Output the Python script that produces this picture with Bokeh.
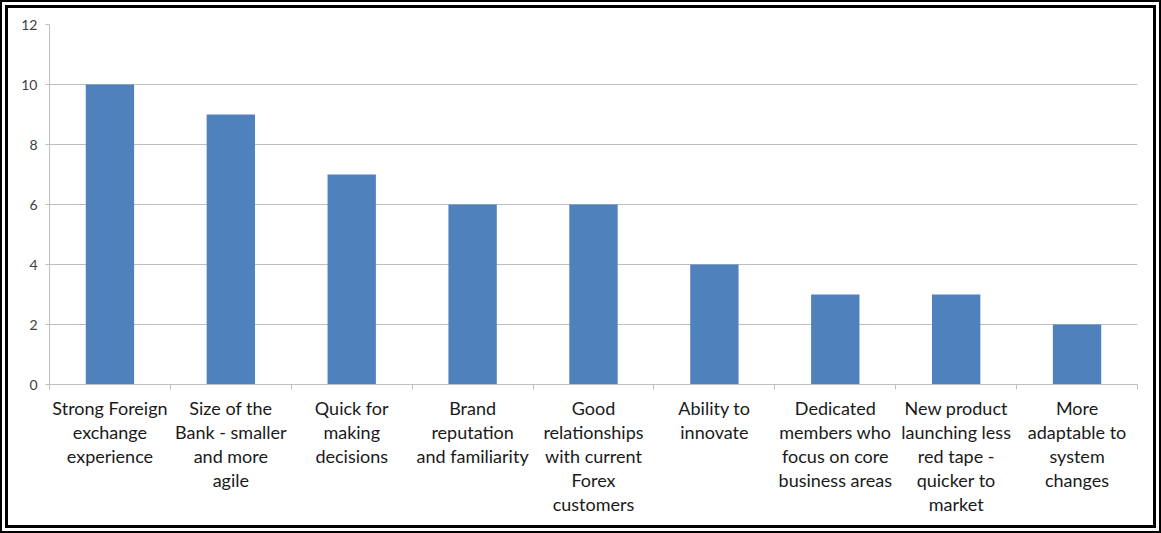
from bokeh.plotting import figure
from bokeh.models import Range1d, LinearAxis, FixedTicker, ColumnDataSource
from bokeh.embed import file_html
from bokeh.resources import INLINE

categories = [
    "Strong Foreign exchange experience",
    "Size of the Bank - smaller and more agile",
    "Quick for making decisions",
    "Brand reputation and familiarity",
    "Good relationships with current Forex customers",
    "Ability to innovate",
    "Dedicated members who focus on core business areas",
    "New product launching less red tape - quicker to market",
    "More adaptable to system changes",
]
wrapped_labels = [
    "Strong Foreign\nexchange\nexperience",
    "Size of the\nBank - smaller\nand more\nagile",
    "Quick for\nmaking\ndecisions",
    "Brand\nreputation\nand familiarity",
    "Good\nrelationships\nwith current\nForex\ncustomers",
    "Ability to\ninnovate",
    "Dedicated\nmembers who\nfocus on core\nbusiness areas",
    "New product\nlaunching less\nred tape -\nquicker to\nmarket",
    "More\nadaptable to\nsystem\nchanges",
]
values = [10, 9, 7, 6, 6, 4, 3, 3, 2]
y_ticks = [0, 2, 4, 6, 8, 10, 12]

W, H = 1161, 533
FONT = "Lato"
n = len(categories)
centers = [i + 0.5 for i in range(n)]

p = figure(x_range=Range1d(0, n), y_range=Range1d(0, 12),
           width=W, height=H, output_backend="svg", toolbar_location=None,
           x_axis_location=None, y_axis_location="left",
           min_border_left=49, min_border_top=24, min_border_right=24,
           min_border_bottom=149)
p.outline_line_color = None
p.background_fill_color = "white"
p.border_fill_alpha = 0
p.styles = {
    "box-shadow": "inset 0 0 0 2px black, inset 0 0 0 5px white, inset 0 0 0 8px black",
    "background-color": "white",
}

src = ColumnDataSource(dict(x=centers, val=values, cat=categories))
p.vbar(x="x", top="val", width=0.4, source=src, color="#4F81BD", line_color=None)

# y axis
yax = p.yaxis[0]
yax.ticker = FixedTicker(ticks=y_ticks)
yax.minor_tick_line_color = None
yax.major_tick_in = 0
yax.major_tick_out = 4
yax.major_tick_line_color = "#BFBFBF"
yax.axis_line_color = "#BFBFBF"
yax.major_label_text_font = FONT
yax.major_label_text_font_size = "14px"
yax.major_label_text_color = "#404040"
yax.major_label_standoff = 8

p.ygrid.ticker = FixedTicker(ticks=y_ticks)
p.ygrid.grid_line_color = "#BEBEBE"
p.xgrid.grid_line_color = None

# tick axis at category boundaries
bounds = list(range(n + 1))
tick_ax = LinearAxis(ticker=FixedTicker(ticks=bounds))
tick_ax.major_label_overrides = {b: "" for b in bounds}
tick_ax.major_label_text_font_size = "1px"
tick_ax.major_label_standoff = 0
tick_ax.minor_tick_line_color = None
tick_ax.major_tick_in = 0
tick_ax.major_tick_out = 5
tick_ax.major_tick_line_color = "#BFBFBF"
tick_ax.axis_line_color = "#BFBFBF"
p.add_layout(tick_ax, "below")

# category label axis
cat_ax = LinearAxis(ticker=FixedTicker(ticks=centers))
cat_ax.major_label_overrides = dict(zip(centers, wrapped_labels))
cat_ax.axis_line_color = None
cat_ax.major_tick_line_color = None
cat_ax.minor_tick_line_color = None
cat_ax.major_label_text_font = FONT
cat_ax.major_label_text_font_size = "18px"
cat_ax.major_label_text_color = "#1a1a1a"
cat_ax.major_label_text_line_height = 1.1
cat_ax.major_label_standoff = 1
cat_ax.major_label_orientation = "horizontal"
p.add_layout(cat_ax, "below")

open("out.html", "w").write(file_html(p, INLINE))
